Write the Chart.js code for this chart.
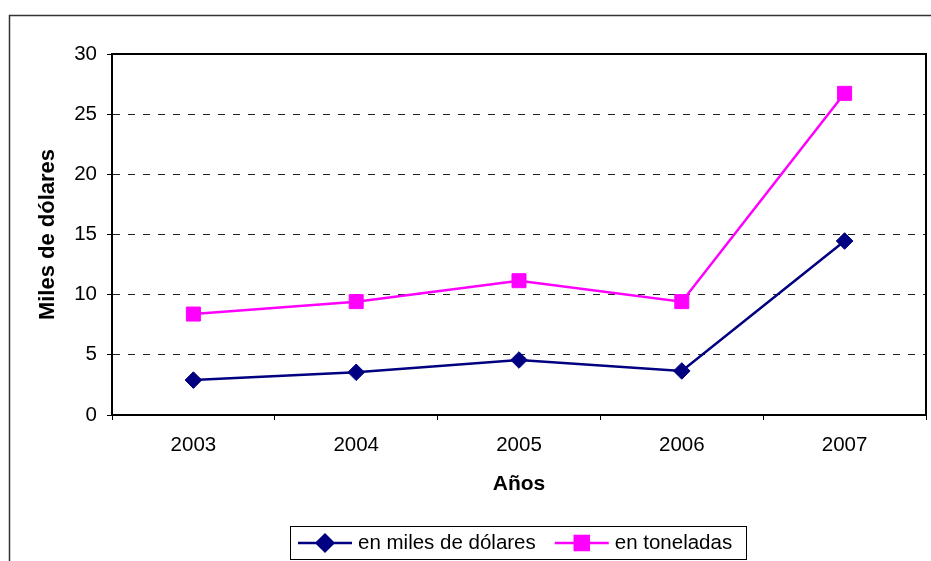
<!DOCTYPE html>
<html lang="es">
<head>
<meta charset="utf-8">
<title>Miles de dólares por año</title>
<script src="https://cdn.jsdelivr.net/npm/chart.js@4/dist/chart.umd.min.js"></script>
<style>
  html, body { margin: 0; padding: 0; background: #ffffff; }
  #wrap { width: 931px; height: 561px; }
</style>
</head>
<body>
<div id="wrap"><canvas id="chart" width="931" height="561"></canvas></div>
<script>
// Categories and series
const years = ['2003', '2004', '2005', '2006', '2007'];
const milesDolares = [2.9, 3.55, 4.57, 3.66, 14.46];
const toneladas = [8.39, 9.42, 11.16, 9.42, 26.73];
const seriesNames = ['en miles de dólares', 'en toneladas'];
const yTicks = [0, 5, 10, 15, 20, 25, 30];

const FONT = "'Liberation Sans', Arial, sans-serif";
Chart.defaults.font.family = FONT;
Chart.defaults.color = '#000000';

// Outer chart border (continues past the right and bottom edges)
const outerBorder = {
  id: 'outerBorder',
  beforeDraw(chart) {
    const ctx = chart.ctx;
    ctx.save();
    ctx.strokeStyle = '#333333';
    ctx.lineWidth = 1.5;
    ctx.strokeRect(9.5, 15.5, 1200, 1000);
    ctx.restore();
  }
};

// Solid black frame round the plot area
const plotFrame = {
  id: 'plotFrame',
  beforeDatasetsDraw(chart) {
    const { ctx, chartArea: a } = chart;
    ctx.save();
    ctx.strokeStyle = '#000000';
    ctx.lineWidth = 2;
    ctx.strokeRect(a.left, a.top, a.right - a.left, a.bottom - a.top);
    ctx.restore();
  }
};

// Boxed legend with a line-and-marker sample for each series
const boxedLegend = {
  id: 'boxedLegend',
  afterDraw(chart) {
    const ctx = chart.ctx;
    ctx.save();
    ctx.strokeStyle = '#000000';
    ctx.lineWidth = 1;
    ctx.strokeRect(290.5, 526.5, 456, 33);
    ctx.font = '20.5px ' + FONT;
    ctx.textBaseline = 'middle';
    ctx.textAlign = 'left';
    const cy = 543;
    let x = 298;
    chart.data.datasets.forEach((ds) => {
      ctx.strokeStyle = ds.borderColor;
      ctx.lineWidth = ds.borderWidth;
      ctx.beginPath();
      ctx.moveTo(x, cy);
      ctx.lineTo(x + 54, cy);
      ctx.stroke();
      ctx.fillStyle = ds.pointBackgroundColor;
      ctx.strokeStyle = ds.pointBorderColor;
      Chart.helpers.drawPoint(ctx, {
        pointStyle: ds.pointStyle,
        radius: ds.pointRadius,
        rotation: 0,
        borderWidth: ds.pointBorderWidth
      }, x + 27, cy);
      ctx.fillStyle = '#000000';
      ctx.fillText(ds.label, x + 60, cy);
      x += 60 + ctx.measureText(ds.label).width + 19;
    });
    ctx.restore();
  }
};

new Chart(document.getElementById('chart'), {
  type: 'line',
  data: {
    labels: years,
    datasets: [
      {
        label: seriesNames[0],
        data: milesDolares,
        borderColor: '#000080',
        backgroundColor: '#000080',
        borderWidth: 2.5,
        tension: 0,
        pointStyle: 'rectRot',
        pointRadius: 8.3,
        pointHoverRadius: 8.3,
        pointBackgroundColor: '#000080',
        pointBorderColor: '#000080',
        pointBorderWidth: 1
      },
      {
        label: seriesNames[1],
        data: toneladas,
        borderColor: '#ff00ff',
        backgroundColor: '#ff00ff',
        borderWidth: 2.5,
        tension: 0,
        pointStyle: 'rect',
        pointRadius: 9.9,
        pointHoverRadius: 9.9,
        pointBackgroundColor: '#ff00ff',
        pointBorderColor: '#ff00ff',
        pointBorderWidth: 1
      }
    ]
  },
  options: {
    responsive: false,
    animation: false,
    events: [],
    layout: { autoPadding: false, padding: { left: 10, top: 54, right: 5, bottom: 46 } },
    plugins: {
      legend: { display: false },
      tooltip: { enabled: false },
      title: { display: false }
    },
    scales: {
      x: {
        type: 'category',
        offset: true,
        afterFit(scale) {
          scale.height = 100;
          scale.paddingLeft = 0;
          scale.paddingRight = 0;
        },
        grid: {
          offset: true,
          drawOnChartArea: false,
          drawTicks: true,
          tickLength: 5,
          tickColor: '#000000',
          tickWidth: 1
        },
        border: { display: true, color: '#000000', width: 2 },
        ticks: {
          padding: 13,
          maxRotation: 0,
          font: { size: 20.5 },
          color: '#000000'
        },
        title: {
          display: true,
          text: 'Años',
          font: { size: 21, weight: 'bold' },
          color: '#000000',
          padding: { top: 0, bottom: 18.4 }
        }
      },
      y: {
        type: 'linear',
        min: yTicks[0],
        max: yTicks[yTicks.length - 1],
        afterFit(scale) { scale.width = 102; },
        afterBuildTicks(scale) { scale.ticks = yTicks.map(v => ({ value: v })); },
        grid: {
          color: (c) => (c.tick && (c.tick.value === 0 || c.tick.value === 30)) ? 'rgba(0,0,0,0)' : '#222222',
          lineWidth: 1,
          drawTicks: true,
          tickLength: 5,
          tickColor: '#000000',
          tickWidth: 1
        },
        border: { display: true, color: '#000000', width: 2, dash: [7, 8] },
        ticks: {
          padding: 10,
          font: { size: 20.5 },
          color: '#000000'
        },
        title: {
          display: true,
          text: 'Miles de dólares',
          font: { size: 22, weight: 'bold' },
          color: '#000000',
          padding: { top: 24.3, bottom: 0 }
        }
      }
    }
  },
  plugins: [outerBorder, plotFrame, boxedLegend]
});
</script>
</body>
</html>
